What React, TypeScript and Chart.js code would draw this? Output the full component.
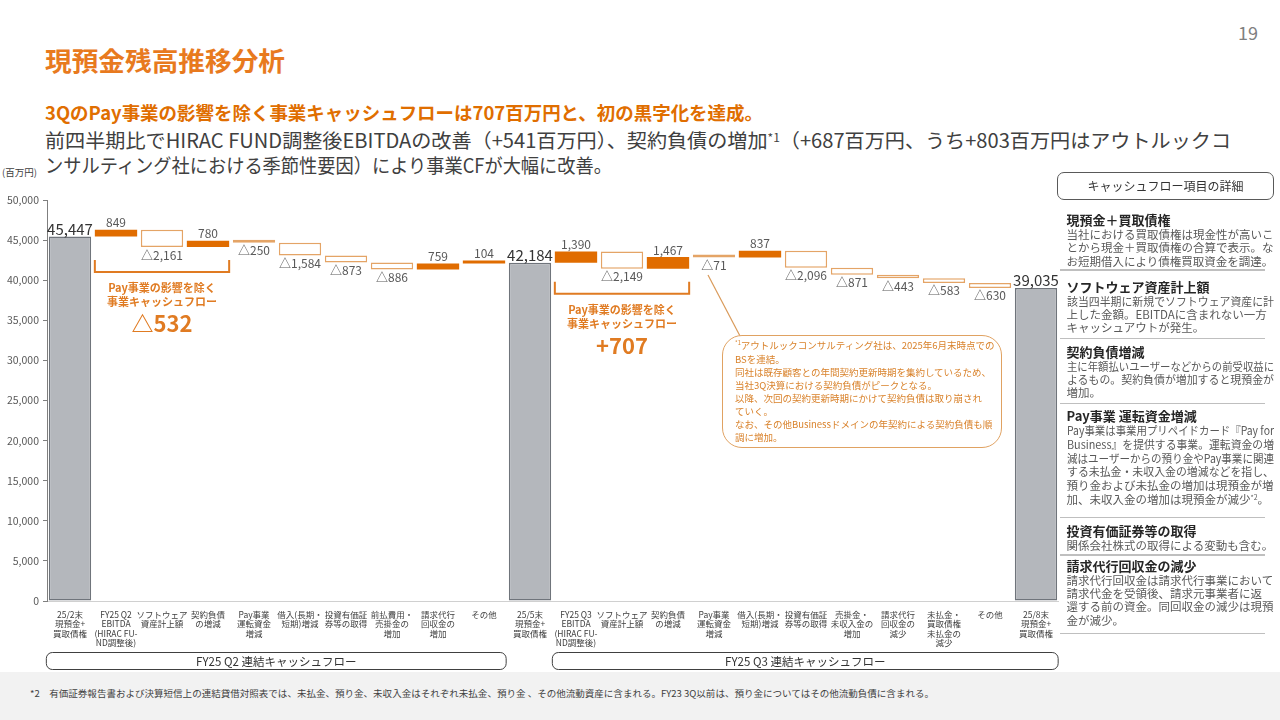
import React, { useEffect, useLayoutEffect, useRef } from 'react';
import { Chart, registerables } from 'chart.js';

Chart.register(...registerables);

const FONT = "'Noto Sans CJK JP', 'Noto Sans', sans-serif";

// ---------------- data ----------------
const categories: string[][] = [
  ['25/2末', '現預金+', '買取債権'],
  ['FY25 Q2', 'EBITDA', '(HIRAC FU-', 'ND調整後)'],
  ['ソフトウェア', '資産計上額'],
  ['契約負債', 'の増減'],
  ['Pay事業', '運転資金', '増減'],
  ['借入(長期・', '短期)増減'],
  ['投資有価証', '券等の取得'],
  ['前払費用・', '売掛金の', '増加'],
  ['請求代行', '回収金の', '増加'],
  ['その他'],
  ['25/5末', '現預金+', '買取債権'],
  ['FY25 Q3', 'EBITDA', '(HIRAC FU-', 'ND調整後)'],
  ['ソフトウェア', '資産計上額'],
  ['契約負債', 'の増減'],
  ['Pay事業', '運転資金', '増減'],
  ['借入(長期・', '短期)増減'],
  ['投資有価証', '券等の取得'],
  ['売掛金・', '未収入金の', '増加'],
  ['請求代行', '回収金の', '減少'],
  ['未払金・', '買取債権', '未払金の', '減少'],
  ['その他'],
  ['25/8末', '現預金+', '買取債権'],
];

const openingQ2 = 45447;
const changesQ2 = [849, -2161, 780, -250, -1584, -873, -886, 759, 104];
const closingQ2 = 42184;
const changesQ3 = [1390, -2149, 1467, -71, 837, -2096, -871, -443, -583, -630];
const closingQ3 = 39035;

const payExcludedRanges = [[1, 3], [11, 13]];
const payExcludedCF = [-532, 707];

const groupTitles = ['FY25 Q2 連結キャッシュフロー', 'FY25 Q3 連結キャッシュフロー'];
const groupRanges = [[0, 9], [11, 21]];

const yMin = 0;
const yMax = 50000;
const yStep = 5000;

const calloutLines = [
  'アウトルックコンサルティング社は、2025年6月末時点での',
  'BSを連結。',
  '同社は既存顧客との年間契約更新時期を集約しているため、',
  '当社3Q決算における契約負債がピークとなる。',
  '以降、次回の契約更新時期にかけて契約負債は取り崩され',
  'ていく。',
  'なお、その他Businessドメインの年契約による契約負債も順',
  '調に増加。',
];

const panelTitles = [
  '現預金＋買取債権',
  'ソフトウェア資産計上額',
  '契約負債増減',
  'Pay事業 運転資金増減',
  '投資有価証券等の取得',
  '請求代行回収金の減少',
];
const panelBodies = [
  ['当社における買取債権は現金性が高いこ', 'とから現金＋買取債権の合算で表示。な', 'お短期借入により債権買取資金を調達。'],
  ['該当四半期に新規でソフトウェア資産に計', '上した金額。EBITDAに含まれない一方', 'キャッシュアウトが発生。'],
  ['主に年額払いユーザーなどからの前受収益に', 'よるもの。契約負債が増加すると現預金が', '増加。'],
  ['Pay事業は事業用プリペイドカード『Pay for', 'Business』を提供する事業。運転資金の増', '減はユーザーからの預り金やPay事業に関連', 'する未払金・未収入金の増減などを指し、', '預り金および未払金の増加は現預金が増', '加、未収入金の増加は現預金が減少'],
  ['関係会社株式の取得による変動も含む。'],
  ['請求代行回収金は請求代行事業において', '請求代金を受領後、請求元事業者に返', '還する前の資金。同回収金の減少は現預', '金が減少。'],
];

// ---------------- derived ----------------
type Kind = 'total' | 'up' | 'down';
const values: number[] = [];
const kinds: Kind[] = [];
const floating: [number, number][] = [];
function pushTotal(v: number) {
  values.push(v);
  kinds.push('total');
  floating.push([0, v]);
}
function pushChanges(start: number, arr: number[]) {
  let run = start;
  for (const d of arr) {
    floating.push([run, run + d]);
    run += d;
    values.push(d);
    kinds.push(d >= 0 ? 'up' : 'down');
  }
}
pushTotal(openingQ2);
pushChanges(openingQ2, changesQ2);
pushTotal(closingQ2);
pushChanges(closingQ2, changesQ3);
pushTotal(closingQ3);

const fmtValue = (v: number) => (v < 0 ? '△' : '') + Math.abs(v).toLocaleString('en-US');
const fmtCF = (v: number) => (v < 0 ? '△' : '+') + Math.abs(v).toLocaleString('en-US');

const ORANGE = '#e06c00';
const BRACKET = '#e07b22';

const overlayPlugin = {
  id: 'waterfallOverlay',
  afterDatasetsDraw(chart: any) {
    const { ctx, chartArea } = chart;
    const meta = chart.getDatasetMeta(0);
    const geo = meta.data.map((el: any) => {
      const p = el.getProps(['x', 'y', 'base', 'width'], true);
      return { x: p.x, w: p.width, top: Math.min(p.y, p.base), bottom: Math.max(p.y, p.base) };
    });
    ctx.save();
    ctx.textAlign = 'center';
    ctx.textBaseline = 'alphabetic';
    geo.forEach((g: any, i: number) => {
      const k = kinds[i];
      if (k === 'total') {
        ctx.font = `15px ${FONT}`;
        ctx.fillStyle = '#333333';
        ctx.fillText(fmtValue(values[i]), g.x, g.top - 2);
      } else if (k === 'up') {
        ctx.font = `12px ${FONT}`;
        ctx.fillStyle = '#595959';
        ctx.fillText(fmtValue(values[i]), g.x, g.top - 2.5);
      } else {
        ctx.font = `12px ${FONT}`;
        ctx.fillStyle = '#595959';
        ctx.fillText(fmtValue(values[i]), g.x, g.bottom + 12.5);
      }
    });

    payExcludedRanges.forEach(([a, b], j) => {
      const left = geo[a].x - geo[a].w / 2;
      const right = geo[b].x + geo[b].w / 2;
      const low = Math.max(...geo.slice(a, b + 1).map((g: any) => g.bottom));
      const top = low + 13;
      const bot = top + 12;
      ctx.beginPath();
      ctx.moveTo(left, top);
      ctx.lineTo(left, bot);
      ctx.lineTo(right, bot);
      ctx.lineTo(right, top);
      ctx.strokeStyle = BRACKET;
      ctx.lineWidth = 2;
      ctx.stroke();
      const cx = (left + right) / 2;
      ctx.fillStyle = BRACKET;
      ctx.textBaseline = 'middle';
      ctx.font = `bold 11px ${FONT}`;
      ctx.fillText('Pay事業の影響を除く', cx, bot + 16);
      ctx.fillText('事業キャッシュフロー', cx, bot + 30);
      ctx.font = `bold 22px ${FONT}`;
      ctx.fillText(fmtCF(payExcludedCF[j]), cx, bot + 52);
    });

    groupRanges.forEach(([a, b], j) => {
      const l = geo[a].x - geo[a].w / 2 - 2.5;
      const r = geo[b].x + geo[b].w / 2 + 1;
      const t = chartArea.bottom + 51.5;
      const h = 17;
      ctx.beginPath();
      (ctx as any).roundRect(l, t, r - l, h, 6);
      ctx.strokeStyle = '#404040';
      ctx.lineWidth = 1;
      ctx.stroke();
      ctx.fillStyle = '#333333';
      ctx.textBaseline = 'middle';
      ctx.font = `11.5px ${FONT}`;
      ctx.fillText(groupTitles[j], (l + r) / 2, t + h / 2 + 0.5);
    });
    ctx.restore();
  },
};

function FitLine({ width, shrinkOnly, style, children }: any) {
  const ref = useRef<HTMLSpanElement>(null);
  useLayoutEffect(() => {
    const el = ref.current;
    if (!el) return;
    el.style.transform = 'none';
    const w = el.getBoundingClientRect().width;
    if (w > 0) {
      let s = width / w;
      if (shrinkOnly && s > 1) s = 1;
      el.style.transform = `scaleX(${s})`;
    }
  }, [width]);
  return (
    <span
      ref={ref}
      style={{ display: 'inline-block', whiteSpace: 'nowrap', transformOrigin: 'left center', ...style }}
    >
      {children}
    </span>
  );
}

const Sup = ({ children }: any) => (
  <span style={{ fontSize: '0.6em', position: 'relative', top: '-0.55em' }}>{children}</span>
);

export default function App() {
  const canvasRef = useRef<HTMLCanvasElement>(null);

  useEffect(() => {
    const c = canvasRef.current;
    if (!c) return;
    Chart.defaults.font.family = FONT;
    const chart = new Chart(c, {
      type: 'bar',
      data: {
        labels: categories,
        datasets: [
          {
            data: floating as any,
            backgroundColor: kinds.map((k) => (k === 'total' ? '#b4b7bc' : k === 'up' ? ORANGE : '#ffffff')),
            borderColor: kinds.map((k) => (k === 'total' ? '#6f747b' : k === 'up' ? ORANGE : '#e4a466')),
            borderWidth: kinds.map((k) => (k === 'up' ? 0 : 1.5)),
            borderSkipped: false,
            barPercentage: 0.92,
            categoryPercentage: 1,
            minBarLength: 3,
          } as any,
        ],
      },
      options: {
        animation: false,
        responsive: false,
        maintainAspectRatio: false,
        layout: { padding: { top: 200, left: 0, right: 0, bottom: 0 } },
        plugins: { legend: { display: false }, tooltip: { enabled: false } },
        scales: {
          x: {
            type: 'category',
            offset: true,
            grid: { display: false, drawTicks: false },
            border: { color: '#d0d0d0', width: 1 },
            ticks: {
              autoSkip: false,
              maxRotation: 0,
              minRotation: 0,
              padding: 9,
              color: '#404040',
              font: { size: 8.5, lineHeight: 1.1 },
            },
            afterFit: (s: any) => {
              s.height = 71;
            },
          },
          y: {
            min: yMin,
            max: yMax,
            ticks: {
              stepSize: yStep,
              padding: 4,
              color: '#595959',
              font: { size: 10.5 },
              callback: (v: any) => Number(v).toLocaleString('en-US'),
            },
            grid: { display: true, drawOnChartArea: false, drawTicks: true, tickLength: 4, color: '#7f7f7f' },
            border: { color: '#7f7f7f', width: 1 },
            afterFit: (s: any) => {
              s.width = 47;
            },
          },
        },
      } as any,
      plugins: [overlayPlugin as any],
    });
    return () => chart.destroy();
  }, []);

  const titleTops = [212, 278.7, 343.7, 408, 523, 557.7];
  const bodyLH = [13.4, 13.3, 13.3, 13.8, 13.4, 13.35];
  const seps = [270, 338.3, 403.3, 517.3, 555, 633.3];

  return (
    <div
      style={{
        position: 'absolute',
        left: 0,
        top: 0,
        width: 1280,
        height: 720,
        overflow: 'hidden',
        background: '#ffffff',
        fontFamily: FONT,
        color: '#404040',
      }}
    >
      {/* footer band */}
      <div style={{ position: 'absolute', left: 0, top: 672, width: 1280, height: 48, background: '#f2f2f2' }} />
      <div style={{ position: 'absolute', left: 30, top: 687, fontSize: 9, lineHeight: '14px', color: '#404040' }}>
        <FitLine width={904}>
          *2　有価証券報告書および決算短信上の連結貸借対照表では、未払金、預り金、未収入金はそれぞれ未払金、預り金 、その他流動資産に含まれる。FY23 3Q以前は、預り金についてはその他流動負債に含まれる。
        </FitLine>
      </div>

      {/* page number */}
      <div style={{ position: 'absolute', left: 1200, width: 58, top: 20, fontSize: 18, lineHeight: '24px', color: '#808080', textAlign: 'right' }}>
        19
      </div>

      {/* title */}
      <div style={{ position: 'absolute', left: 45, top: 45, fontSize: 26, lineHeight: '30px', fontWeight: 700, color: '#e87a1e' }}>
        <FitLine width={240}>現預金残高推移分析</FitLine>
      </div>
      <div style={{ position: 'absolute', left: 45, top: 100, fontSize: 18.5, lineHeight: '24px', fontWeight: 700, color: '#e06e00' }}>
        <FitLine width={718}>3QのPay事業の影響を除く事業キャッシュフローは707百万円と、初の黒字化を達成。</FitLine>
      </div>
      <div style={{ position: 'absolute', left: 45, top: 128, fontSize: 19.5, lineHeight: '24px', color: '#404040' }}>
        <FitLine width={1186}>
          前四半期比でHIRAC FUND調整後EBITDAの改善（+541百万円）、契約負債の増加<Sup>*1</Sup>（+687百万円、うち+803百万円はアウトルックコ
        </FitLine>
      </div>
      <div style={{ position: 'absolute', left: 45, top: 153, fontSize: 19.5, lineHeight: '24px', color: '#404040' }}>
        <FitLine width={567}>ンサルティング社における季節性要因）により事業CFが大幅に改善。</FitLine>
      </div>
      <div style={{ position: 'absolute', left: 2, top: 165, fontSize: 9.5, lineHeight: '14px', color: '#404040' }}>(百万円)</div>

      {/* chart */}
      <canvas ref={canvasRef} width={1062} height={672} style={{ position: 'absolute', left: 0, top: 0, width: 1062, height: 672 }} />

      {/* callout connector */}
      <svg width={1280} height={720} style={{ position: 'absolute', left: 0, top: 0, pointerEvents: 'none' }}>
        <line x1={708} y1={275} x2={740} y2={336} stroke="#d99a5a" strokeWidth={1.2} />
      </svg>

      {/* callout */}
      <div
        style={{
          position: 'absolute',
          left: 722,
          top: 335,
          width: 280,
          height: 113,
          boxSizing: 'border-box',
          border: '1.5px solid #e0a262',
          borderRadius: 20,
          background: '#ffffff',
          paddingLeft: 12,
          paddingTop: 2.5,
          fontSize: 9.5,
          lineHeight: '13px',
          color: '#d9822b',
        }}
      >
        {calloutLines.map((l, i) => (
          <div key={i} style={{ whiteSpace: 'nowrap' }}>
            {i === 0 ? <Sup>*1</Sup> : null}
            {l}
          </div>
        ))}
      </div>

      {/* right panel */}
      <div
        style={{
          position: 'absolute',
          left: 1057,
          top: 172,
          width: 217,
          height: 28,
          boxSizing: 'border-box',
          border: '1px solid #595959',
          borderRadius: 7,
          fontSize: 12,
          lineHeight: '26px',
          textAlign: 'center',
          color: '#333333',
        }}
      >
        キャッシュフロー項目の詳細
      </div>
      {panelTitles.map((t, i) => (
        <div key={i} style={{ position: 'absolute', left: 1066.5, top: titleTops[i], width: 210 }}>
          <div style={{ fontSize: 13, lineHeight: '16px', fontWeight: 700, color: '#262626', whiteSpace: 'nowrap' }}>{t}</div>
          <div style={{ fontSize: 11.5, lineHeight: `${bodyLH[i]}px`, color: '#595959' }}>
            {panelBodies[i].map((l, k) => (
              <div key={k} style={{ height: bodyLH[i] }}>
                <FitLine width={207} shrinkOnly>
                  {l}
                  {i === 3 && k === panelBodies[i].length - 1 ? (
                    <>
                      <Sup>*2</Sup>。
                    </>
                  ) : null}
                </FitLine>
              </div>
            ))}
          </div>
        </div>
      ))}
      {seps.map((y, i) => (
        <div key={i} style={{ position: 'absolute', left: 1060, top: y - 0.75, width: 205, height: 1.5, background: '#bfbfbf' }} />
      ))}
    </div>
  );
}
